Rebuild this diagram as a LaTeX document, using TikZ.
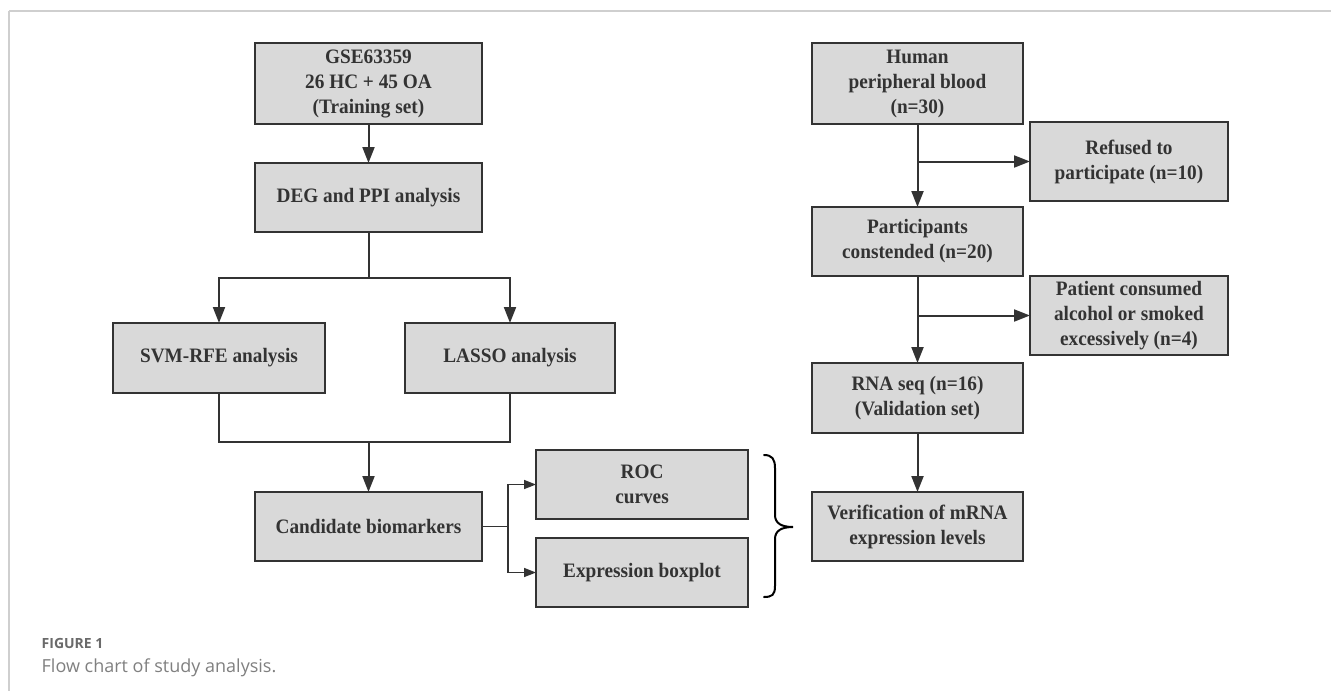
\documentclass[tikz,border=0pt]{standalone}
\usepackage{fontspec}
\setmainfont{Liberation Serif}
\newfontfamily\boxfont[FakeStretch=0.94]{Liberation Serif}
\newfontfamily\capfont{Open Sans}
\usetikzlibrary{arrows.meta}
\definecolor{boxfill}{HTML}{D9D9D9}
\definecolor{ink}{HTML}{333333}
\definecolor{frame}{HTML}{CFCFCF}
\definecolor{capgray}{HTML}{6A6A6A}
\tikzset{
  fbox/.style={draw=ink, fill=boxfill, line width=2pt, inner sep=0pt, outer sep=0pt,
    align=center, text=ink, font=\boxfont\bfseries\fontsize{20.5}{25}\selectfont},
  arr/.style={draw=ink, line width=2pt, -{Triangle[length=16pt,width=12pt]}},
  sarr/.style={draw=ink, line width=1.6pt, -{Triangle[length=12pt,width=9pt]}},
  link/.style={draw=ink, line width=2pt},
  thinlink/.style={draw=ink, line width=1.4pt},
}
\begin{document}
\begin{tikzpicture}[x=1pt, y=-1pt]
\useasboundingbox (0,0) rectangle (1331,691);
\fill[white] (0,0) rectangle (1331,691);
% frame lines
\draw[frame, line width=1.5pt] (9,11) -- (1331,11);
\draw[frame, line width=1.5pt] (9,11) -- (9,691);

% left column
\node[fbox, minimum width=227pt, minimum height=81pt] (gse) at (368.5,83.5) {GSE63359\\26 HC + 45 OA\\(Training set)};
\node[fbox, minimum width=227pt, minimum height=69pt] (deg) at (368.5,197.5) {DEG and PPI analysis};
\node[fbox, minimum width=212pt, minimum height=70pt] (svm) at (219,358) {SVM-RFE analysis};
\node[fbox, minimum width=210pt, minimum height=70pt] (lasso) at (510,358) {LASSO analysis};
\node[fbox, minimum width=227pt, minimum height=69pt] (cand) at (368.5,526.5) {Candidate biomarkers};
\node[fbox, minimum width=212pt, minimum height=69pt] (roc) at (642,484.5) {ROC\\curves};
\node[fbox, minimum width=212pt, minimum height=69pt] (expr) at (642,572.5) {Expression boxplot};

% right column
\node[fbox, minimum width=211pt, minimum height=81pt] (human) at (917.5,83.5) {Human\\peripheral blood\\(n=30)};
\node[fbox, minimum width=198pt, minimum height=79pt] (refused) at (1129,161.5) {Refused to\\participate (n=10)};
\node[fbox, minimum width=211pt, minimum height=69pt] (part) at (917.5,241.5) {Participants\\constended (n=20)};
\node[fbox, minimum width=198pt, minimum height=79pt] (patient) at (1129,315.5) {Patient consumed\\alcohol or smoked\\excessively (n=4)};
\node[fbox, minimum width=211pt, minimum height=70pt] (rna) at (917.5,398) {RNA seq (n=16)\\(Validation set)};
\node[fbox, minimum width=211pt, minimum height=69pt] (verif) at (917.5,526.5) {Verification of mRNA\\expression levels};

% connectors left
\draw[arr] (gse.south) -- (deg.north);
\coordinate (split) at (368.5,278);
\draw[link] (deg.south) -- (split);
\draw[arr] (split) -| (svm.north);
\draw[arr] (split) -| (lasso.north);
\coordinate (merge) at (368.5,442);
\draw[thinlink] (svm.south) |- (merge);
\draw[thinlink] (lasso.south) |- (merge);
\draw[arr] (merge) -- (cand.north);
\coordinate (br) at (508,526.5);
\draw[thinlink] (cand.east) -- (br);
\draw[sarr] (br) |- (roc.west);
\draw[sarr] (br) |- (expr.west);

% connectors right
\coordinate (s1) at (917.5,161.5);
\coordinate (s2) at (917.5,315.5);
\draw[arr] (human.south) -- (part.north);
\draw[arr] (s1) -- (refused.west);
\draw[arr] (part.south) -- (rna.north);
\draw[arr] (s2) -- (patient.west);
\draw[arr] (rna.south) -- (verif.north);

% brace
\draw[black, line width=2pt, line cap=round]
  (764,455) .. controls (772,455) and (775,459) .. (775,468)
  -- (775,515) .. controls (775,523) and (781,527) .. (793,527)
  .. controls (781,527) and (775,531) .. (775,539)
  -- (775,586) .. controls (775,595) and (772,597) .. (764,597);

% caption
\node[anchor=base west, inner sep=0pt, text=capgray, font=\capfont\bfseries\fontsize{14}{16}\selectfont] (fig) at (41.5,648) {FIGURE 1};
\node[anchor=base west, inner sep=0pt, text=capgray!85, font=\capfont\fontsize{18}{22}\selectfont] (cap) at (41.5,672) {Flow chart of study analysis.};
\end{tikzpicture}
\end{document}
